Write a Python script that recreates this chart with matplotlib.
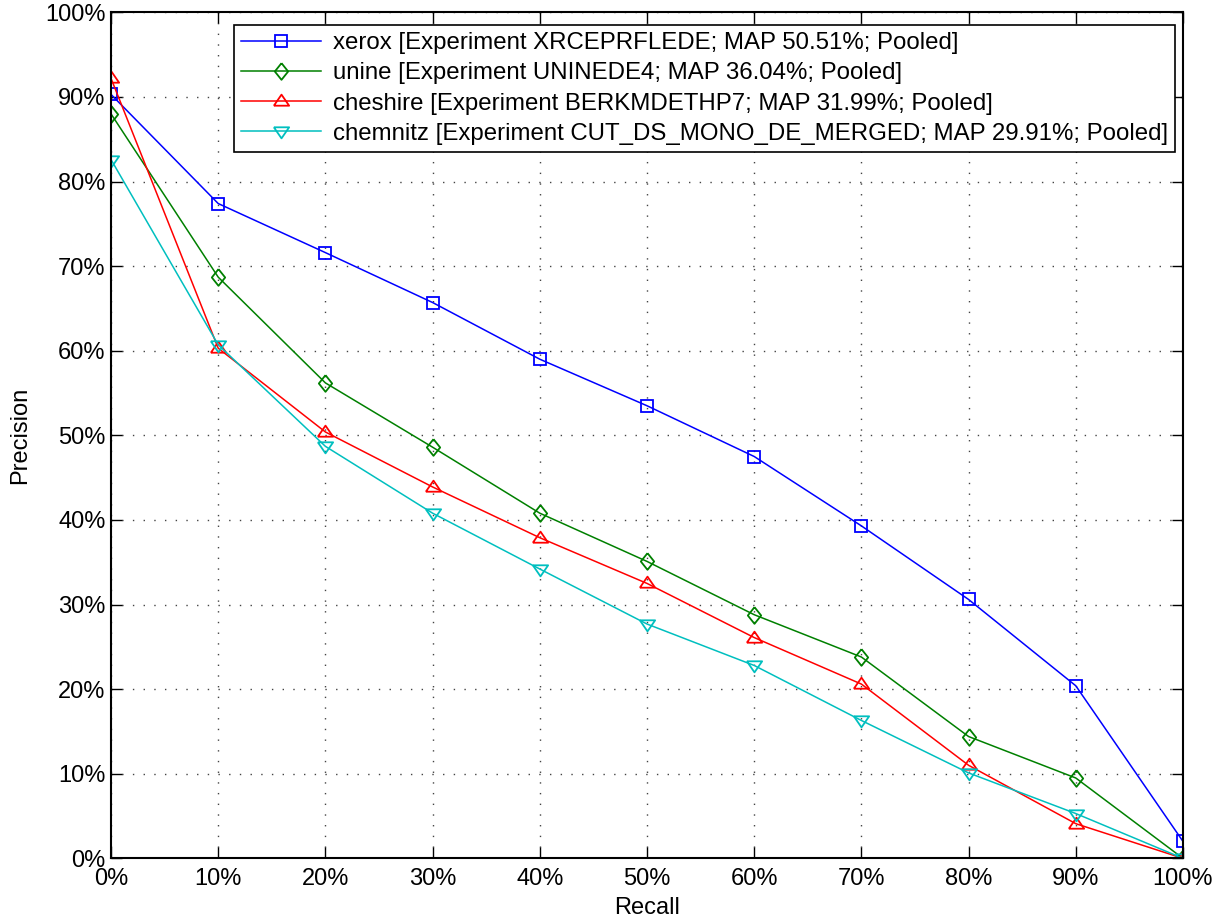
import matplotlib.pyplot as plt
from matplotlib.ticker import FuncFormatter

plt.rcParams["font.family"] = ["Liberation Sans", "DejaVu Sans"]

recall = [0, 10, 20, 30, 40, 50, 60, 70, 80, 90, 100]

xerox = [90.3, 77.4, 71.6, 65.7, 59.0, 53.5, 47.5, 39.3, 30.6, 20.4, 2.0]
unine = [88.0, 68.7, 56.2, 48.6, 40.8, 35.1, 28.8, 23.8, 14.4, 9.5, 0.0]
cheshire = [92.2, 60.3, 50.4, 43.9, 37.9, 32.5, 26.1, 20.6, 11.0, 4.1, 0.0]
chemnitz = [82.6, 60.7, 48.7, 40.8, 34.2, 27.7, 22.8, 16.3, 10.1, 5.3, 0.0]

labels = [
    "xerox [Experiment XRCEPRFLEDE; MAP 50.51%; Pooled]",
    "unine [Experiment UNINEDE4; MAP 36.04%; Pooled]",
    "cheshire [Experiment BERKMDETHP7; MAP 31.99%; Pooled]",
    "chemnitz [Experiment CUT_DS_MONO_DE_MERGED; MAP 29.91%; Pooled]",
]

# matlab-ish markers
diamond = [(0, 1), (0.8, 0), (0, -1), (-0.8, 0), (0, 1)]
tri_up = [(-1, -0.55), (1, -0.55), (0, 0.9), (-1, -0.55)]
tri_down = [(-1, 0.55), (1, 0.55), (0, -0.9), (-1, 0.55)]

fig = plt.figure(figsize=(12.24, 9.21), dpi=100)
ax = fig.add_axes([0.0907, 0.068, 0.8758, 0.9186])

common = dict(linewidth=1.1, markerfacecolor="none", markeredgewidth=1.3)
ax.plot(recall, xerox, color="#0000ff", marker="s", markersize=8.5, label=labels[0], **common)
ax.plot(recall, unine, color="#008000", marker=diamond, markersize=12, label=labels[1], **common)
ax.plot(recall, cheshire, color="#ff0000", marker=tri_up, markersize=11, label=labels[2], **common)
ax.plot(recall, chemnitz, color="#00bfbf", marker=tri_down, markersize=11, label=labels[3], **common)

ax.set_xlim(0, 100)
ax.set_ylim(0, 100)
ax.set_xticks(range(0, 101, 10))
ax.set_yticks(range(0, 101, 10))
pct = FuncFormatter(lambda v, p: f"{v:.0f}%")
ax.xaxis.set_major_formatter(pct)
ax.yaxis.set_major_formatter(pct)

ax.tick_params(direction="in", length=8, width=1, labelsize=17,
               top=True, right=True)
ax.tick_params(axis="x", pad=7)
ax.tick_params(axis="y", pad=4)
ax.grid(True, color="#444444", linestyle=(0, (1, 6.7)), linewidth=1.0)
for s in ax.spines.values():
    s.set_linewidth(1.5)

ax.set_xlabel("Recall", fontsize=17, labelpad=5)
ax.set_ylabel("Precision", fontsize=17, labelpad=10)

leg = ax.legend(loc="upper right", bbox_to_anchor=(0.9925, 0.985),
                fontsize=17.3, fancybox=False, framealpha=1,
                edgecolor="black", borderaxespad=0, handlelength=3.3,
                labelspacing=0.34, borderpad=0.3, handletextpad=0.5)
leg.get_frame().set_linewidth(1.2)

fig.savefig("out.png", dpi=100)
